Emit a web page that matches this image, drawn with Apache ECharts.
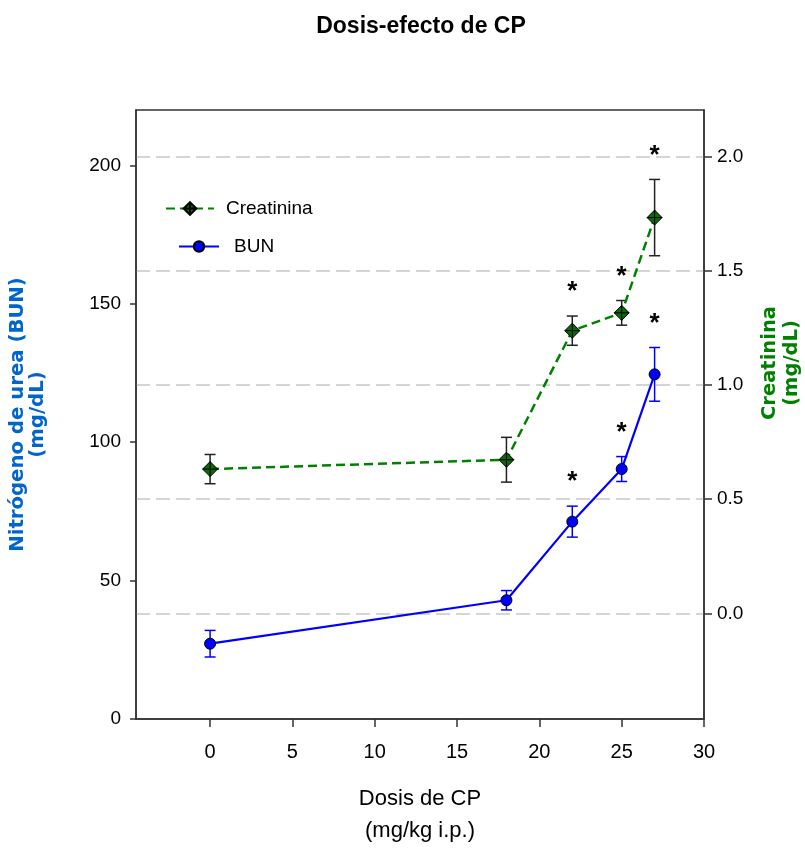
<!DOCTYPE html>
<html>
<head>
<meta charset="utf-8">
<title>Dosis-efecto de CP</title>
<script src="https://cdn.jsdelivr.net/npm/echarts@6/dist/echarts.min.js"></script>
<style>
  html, body { margin: 0; padding: 0; background: #fff; }
  #chart { width: 805px; height: 852px; }
</style>
</head>
<body>
<div id="chart"></div>
<script>
// Doses of CP (mg/kg i.p.)
const doses = [0, 18, 22, 25, 27];

// Blood urea nitrogen (mg/dL): mean and error
const bunMean = [27.2, 42.9, 71.3, 90.3, 124.5];
const bunErr = [4.8, 3.5, 5.6, 4.5, 9.7];
const bunSignificant = [false, false, true, true, true];

// Creatinine (mg/dL): mean and error
const creatMean = [0.632, 0.673, 1.238, 1.316, 1.733];
const creatErr = [0.064, 0.098, 0.064, 0.054, 0.167];
const creatSignificant = [false, false, true, true, true];

// Tick values
const doseTicks = [0, 5, 10, 15, 20, 25, 30];
const bunTicks = [0, 50, 100, 150, 200];
const creatTicks = [0, 0.5, 1.0, 1.5, 2.0];

const FONT = "'Liberation Sans', Arial, sans-serif";
const BOLD_FONT = "'DejaVu Sans', Verdana, sans-serif";
const AXIS_COLOR = '#333';

const diamondCross = 'path://M0,-1L1,0L0,1L-1,0Z M0,-1L0,1 M-1,0L1,0';

function pairs(xs, ys) {
  return xs.map((x, i) => [x, ys[i]]);
}

function errorBars(name, yAxisIndex, means, errs, flags, color) {
  return {
    type: 'custom',
    name: name,
    yAxisIndex: yAxisIndex,
    silent: true,
    z: 3,
    data: doses.map((d, i) => [d, means[i] - errs[i], means[i] + errs[i], flags[i] ? 1 : 0]),
    encode: { x: 0, y: [1, 2] },
    renderItem: function (params, api) {
      const x = api.value(0);
      const lo = api.coord([x, api.value(1)]);
      const hi = api.coord([x, api.value(2)]);
      const half = 5.5;
      const style = { stroke: color, lineWidth: 1.5, fill: null };
      const children = [
        { type: 'line', shape: { x1: lo[0], y1: lo[1], x2: hi[0], y2: hi[1] }, style: style },
        { type: 'line', shape: { x1: lo[0] - half, y1: lo[1], x2: lo[0] + half, y2: lo[1] }, style: style },
        { type: 'line', shape: { x1: hi[0] - half, y1: hi[1], x2: hi[0] + half, y2: hi[1] }, style: style }
      ];
      if (api.value(3)) {
        children.push({
          type: 'text',
          x: hi[0],
          y: hi[1] - 24,
          style: {
            text: '*',
            fill: '#000',
            font: 'bold 26px ' + FONT,
            align: 'center',
            verticalAlign: 'middle'
          }
        });
      }
      return { type: 'group', children: children };
    }
  };
}

const chart = echarts.init(document.getElementById('chart'), null, { renderer: 'canvas' });

chart.setOption({
  backgroundColor: '#fff',
  animation: false,
  title: {
    text: 'Dosis-efecto de CP',
    left: 421,
    top: 15,
    padding: 0,
    textAlign: 'center',
    textStyle: { fontFamily: FONT, fontSize: 23, fontWeight: 'bold', color: '#000' }
  },
  grid: {
    left: 136, right: 101, top: 110, bottom: 124,
    show: true, borderColor: AXIS_COLOR, borderWidth: 1.5, backgroundColor: 'transparent'
  },
  legend: [
    {
      data: ['Creatinina'],
      left: 165, top: 199,
      itemWidth: 48, itemHeight: 16,
      padding: 0,
      textStyle: { fontFamily: FONT, fontSize: 19, color: '#000', padding: [0, 0, 0, 7] }
    },
    {
      data: ['BUN'],
      left: 178, top: 237,
      itemWidth: 40, itemHeight: 13,
      padding: 0,
      textStyle: { fontFamily: FONT, fontSize: 19, color: '#000', padding: [0, 0, 0, 10] }
    }
  ],
  xAxis: {
    type: 'value',
    min: -4.5,
    max: 30,
    name: 'Dosis de CP\n(mg/kg i.p.)',
    nameLocation: 'middle',
    nameGap: 64,
    nameTextStyle: { fontFamily: FONT, fontSize: 22, color: '#000', lineHeight: 32 },
    axisLine: { show: true, onZero: false, lineStyle: { color: AXIS_COLOR, width: 1.5 } },
    axisTick: { show: true, inside: false, length: 8, customValues: doseTicks, lineStyle: { color: AXIS_COLOR, width: 1.5 } },
    axisLabel: { customValues: doseTicks, margin: 23, fontFamily: FONT, fontSize: 20, color: '#000' },
    splitLine: { show: false }
  },
  yAxis: [
    {
      type: 'value',
      position: 'left',
      min: 0,
      max: 220,
      interval: 50,
      name: 'Nitrógeno de urea (BUN)\n(mg/dL)',
      nameLocation: 'middle',
      nameRotate: 90,
      nameGap: 88,
      nameTextStyle: { fontFamily: BOLD_FONT, fontSize: 19.7, fontWeight: 'bold', color: '#0066cc', lineHeight: 20 },
      axisLine: { show: true, onZero: false, lineStyle: { color: AXIS_COLOR, width: 1.5 } },
      axisTick: { show: true, inside: false, length: 6, customValues: bunTicks, lineStyle: { color: AXIS_COLOR, width: 1.5 } },
      axisLabel: { customValues: bunTicks, margin: 15, fontFamily: FONT, fontSize: 19, color: '#000' },
      splitLine: { show: false }
    },
    {
      type: 'value',
      position: 'right',
      min: -0.462,
      max: 2.204,
      axisLine: { show: true, onZero: false, lineStyle: { color: AXIS_COLOR, width: 1.5 } },
      axisTick: { show: true, inside: false, length: 8, customValues: creatTicks, lineStyle: { color: AXIS_COLOR, width: 1.5 } },
      axisLabel: {
        customValues: creatTicks, margin: 13, fontFamily: FONT, fontSize: 19, color: '#000',
        formatter: v => Number(v).toFixed(1)
      },
      splitLine: { show: true, lineStyle: { color: '#c8c8c8', width: 1.5, type: [14, 6] } }
    }
  ],
  graphic: [
    {
      type: 'text',
      x: 781,
      y: 363,
      rotation: Math.PI / 2,
      style: {
        text: 'Creatinina\n(mg/dL)',
        font: 'bold 19.5px ' + BOLD_FONT,
        lineHeight: 22,
        fill: '#008000',
        align: 'center',
        verticalAlign: 'middle'
      }
    }
  ],
  series: [
    errorBars('Creatinina error', 1, creatMean, creatErr, creatSignificant, '#222'),
    errorBars('BUN error', 0, bunMean, bunErr, bunSignificant, '#0000ff'),
    {
      name: 'Creatinina',
      type: 'line',
      yAxisIndex: 1,
      z: 4,
      data: pairs(doses, creatMean),
      symbol: diamondCross,
      symbolSize: 15,
      lineStyle: { color: '#008000', width: 2.5, type: [9, 5] },
      itemStyle: { color: '#0a6a0a', borderColor: '#000', borderWidth: 1 },
      emphasis: { disabled: true }
    },
    {
      name: 'BUN',
      type: 'line',
      yAxisIndex: 0,
      z: 4,
      data: pairs(doses, bunMean),
      symbol: 'circle',
      symbolSize: 11,
      lineStyle: { color: '#0000ff', width: 2.2 },
      itemStyle: { color: '#0000ff', borderColor: '#000', borderWidth: 1 },
      emphasis: { disabled: true }
    }
  ]
});
</script>
</body>
</html>
